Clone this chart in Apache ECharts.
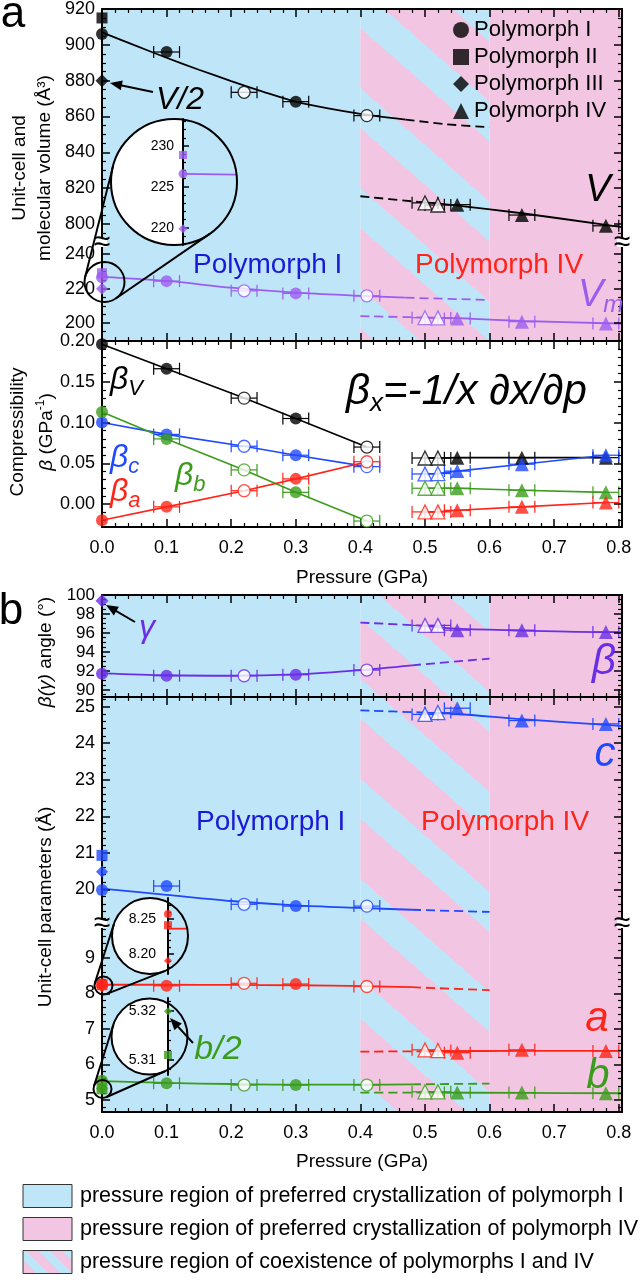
<!DOCTYPE html>
<html><head><meta charset="utf-8">
<script src="https://cdn.jsdelivr.net/npm/echarts@6/dist/echarts.min.js"></script>
<style>html,body{margin:0;padding:0;background:#fff}#c{width:640px;height:1280px}</style>
</head><body><div id="c"></div><script>
// ---------------- DATA ----------------
const P_I = [0, 0.1, 0.22, 0.3, 0.41];          // polymorph I pressures (GPa)
const OPEN_I = [0, 0, 1, 0, 1];                 // open (1) / filled (0) symbols
const ERR_I = [0, 0.02, 0.02, 0.02, 0.02];      // pressure error
const P_IV = [0.50, 0.52, 0.55, 0.65, 0.78];    // polymorph IV pressures
const OPEN_IV = [1, 1, 0, 0, 0];
const ERR_IV = [0.02, 0.02, 0.02, 0.02, 0.02];

// unit-cell volume V and molecular volume Vm (A^3)
const V_I = [906, 896, 873.5, 868.3, 860.5];
const V_IV = [811.8, 810.6, 810.8, 805, 799];
const V_II0 = 915, V_III0 = 880;
const VM_I = [226.6, 224.3, 218.7, 217.2, 215.8];
const VM_IV = [203.1, 203.0, 202.7, 200.8, 199.8];
const VM_II0 = 228.9, VM_III0 = 219.9;
const V_FIT_I = [[0,907],[0.05,899.8],[0.1,892.8],[0.15,886.1],[0.2,879.8],[0.25,873.8],[0.3,868.3],[0.35,864.5],[0.4,861.5],[0.47,858.3]];
const V_FIT_I_D = [[0.47,858.3],[0.53,855.8],[0.6,854]];
const V_FIT_IV_D = [[0.4,815.5],[0.49,812.3]];
const V_FIT_IV = [[0.49,812.3],[0.55,810.3],[0.65,806],[0.78,799.5],[0.805,798.3]];
const VM_FIT_I = [[0,226.8],[0.1,224.4],[0.2,220.5],[0.3,217.6],[0.4,215.8],[0.47,214.7]];
const VM_FIT_I_D = [[0.47,214.7],[0.6,213.4]];
const VM_FIT_IV_D = [[0.4,204],[0.49,203.3]];
const VM_FIT_IV = [[0.49,203.3],[0.55,202.8],[0.65,201.2],[0.78,199.9],[0.805,199.6]];

// compressibilities (GPa^-1)
const BV_I = [0.196, 0.166, 0.130, 0.105, 0.070];
const BC_I = [0.100, 0.0855, 0.071, 0.060, 0.046];
const BB_I = [0.113, 0.080, 0.042, 0.0145, -0.0207];
const BA_I = [-0.0198, -0.0033, 0.0165, 0.031, 0.052];
const BV_IV = [0.0566, 0.0566, 0.057, 0.057, 0.057];
const BC_IV = [0.037, 0.0375, 0.0405, 0.049, 0.060];
const BB_IV = [0.0195, 0.0195, 0.0195, 0.017, 0.0145];
const BA_IV = [-0.0095, -0.0095, -0.0075, -0.0033, 0.002];

// angles (deg)
const ANG_I = [91.7, 91.5, 91.5, 91.6, 92.1];
const ANG_IV = [96.8, 96.8, 96.3, 96.3, 96.1];
const GAMMA_III0 = 99.4;
const ANG_FIT_I = [[0,91.75],[0.1,91.55],[0.2,91.5],[0.3,91.65],[0.4,92.1],[0.48,92.6]];
const ANG_FIT_I_D = [[0.48,92.6],[0.6,93.3]];
const ANG_FIT_IV_D = [[0.4,97.1],[0.5,96.75]];
const ANG_FIT_IV = [[0.5,96.75],[0.55,96.45],[0.65,96.25],[0.78,96.1],[0.805,96.1]];

// cell lengths (A)
const C_I = [19.98, 20.09, 19.59, 19.54, 19.54];
const C_IV = [24.79, 24.84, 24.96, 24.62, 24.53];
const C_II0 = 20.93, C_III0 = 20.48;
const C_FIT_I = [[0,20.02],[0.1,19.85],[0.2,19.68],[0.3,19.56],[0.4,19.49],[0.48,19.44]];
const C_FIT_I_D = [[0.48,19.44],[0.6,19.38]];
const C_FIT_IV_D = [[0.4,24.9],[0.5,24.84]];
const C_FIT_IV = [[0.5,24.84],[0.55,24.8],[0.65,24.66],[0.78,24.5],[0.805,24.47]];
const A_I = [8.257, 8.21, 8.28, 8.26, 8.19];
const A_IV = [6.41, 6.39, 6.33, 6.41, 6.38];
const A_II0 = 8.241, A_III0 = 8.19;
const A_FIT_I = [[0,8.24],[0.1,8.24],[0.2,8.235],[0.3,8.225],[0.41,8.2],[0.48,8.17]];
const A_FIT_I_D = [[0.48,8.17],[0.6,8.09]];
const A_FIT_IV_D = [[0.4,6.36],[0.5,6.37]];
const A_FIT_IV = [[0.5,6.37],[0.65,6.38],[0.805,6.38]];
const B_I = [5.54, 5.47, 5.42, 5.42, 5.42];
const B_IV = [5.23, 5.23, 5.21, 5.21, 5.19];
const B_II0 = 5.311, B_III0 = 5.320;   // b/2
const B_FIT_I = [[0,5.53],[0.1,5.48],[0.2,5.45],[0.3,5.43],[0.41,5.43],[0.48,5.44]];
const B_FIT_I_D = [[0.48,5.44],[0.6,5.46]];
const B_FIT_IV_D = [[0.4,5.21],[0.5,5.21]];
const B_FIT_IV = [[0.5,5.21],[0.65,5.2],[0.805,5.19]];

// tick labels
const X_TICKS = [0, 0.1, 0.2, 0.3, 0.4, 0.5, 0.6, 0.7, 0.8];
const V_TICKS = [800, 820, 840, 860, 880, 900, 920];
const VM_TICKS = [200, 220, 240];
const BETA_TICKS = [0, 0.05, 0.1, 0.15, 0.2];
const ANG_TICKS = [90, 92, 94, 96, 98, 100];
const C_TICKS = [20, 21, 22, 23, 24, 25];
const AB_TICKS = [5, 6, 7, 8, 9];
const INA_TICKS = [220, 225, 230];
const INB_TICKS = [8.20, 8.25];
const INC_TICKS = [5.31, 5.32];

// ---------------- STYLE ----------------
const FONT = '"Liberation Sans", Arial, sans-serif';
const BLUE_BG = '#bfe6f8', PINK_BG = '#f2c6e2';
const K = '#000', BLU = '#1f48ff', GRN = '#3b9c1c', RED = '#ff2418', VMC = '#9c5cf0', ANC = '#6a2ee6';
const XMAX = 0.805;
const SZ_C = 12, SZ_T = 14;

function mkRange(a, b, s){ const n = Math.round((b - a) / s), o = []; for (let i = 0; i <= n; i++) o.push(Math.round((a + i * s) * 1e6) / 1e6); return o; }
function without(arr, ex){ return arr.filter(v => !ex.some(e => Math.abs(e - v) < 1e-9)); }
const X_MINOR = without(mkRange(0, 0.8, 0.02), X_TICKS);

// diagonal stripe tile: stripes run down-right with slope T/W
function stripeCanvas(T, W, pinkFrac, u0){
  const c = document.createElement('canvas'); c.width = W; c.height = T;
  const ctx = c.getContext('2d'); const img = ctx.createImageData(W, T); const s = T / W;
  const pk = [242,198,226], bl = [191,230,248];
  for (let j = 0; j < T; j++) for (let i = 0; i < W; i++) {
    const u = s * (i + 0.5) - (j + 0.5);
    const ph = (((u - u0) % T) + T) % T;
    const col = ph < pinkFrac * T ? pk : bl; const k = (j * W + i) * 4;
    img.data[k] = col[0]; img.data[k+1] = col[1]; img.data[k+2] = col[2]; img.data[k+3] = 255;
  }
  ctx.putImageData(img, 0, 0); return c;
}
const S_T = 100, S_W = 114, S_F = 0.6;
const patA = {image: stripeCanvas(S_T, S_W, S_F, (S_T/S_W) * 383 - 8), repeat: 'repeat'};
const patB = {image: stripeCanvas(S_T, S_W, S_F, (S_T/S_W) * 379 - 595), repeat: 'repeat'};
const patL = {image: stripeCanvas(24, 24, 0.5, 0), repeat: 'repeat'};

// ---------------- GRIDS / AXES ----------------
const LAYOUT = [
 {top:8,   height:235, min:789.4, max:920,    ticks:V_TICKS,    minor:[790,920,5],      dig:0, xlab:false, tl:true,  bl:false, fs:18},
 {top:243, height:98,  min:189.6, max:246.4,  ticks:VM_TICKS,   minor:[190,245,5],      dig:0, xlab:false, tl:false, bl:true,  fs:18},
 {top:341, height:186, min:-0.028, max:0.2,   ticks:BETA_TICKS, minor:[-0.02,0.2,0.01], dig:2, xlab:true,  tl:true,  bl:true,  fs:18},
 {top:595, height:102, min:89.26, max:100,    ticks:ANG_TICKS,  minor:[89.5,100,0.5],   dig:0, xlab:false, tl:true,  bl:true,  fs:17},
 {top:697, height:227, min:19.05, max:25.266, ticks:C_TICKS,    minor:[19.2,25.2,0.2],  dig:0, xlab:false, tl:true,  bl:false, fs:18},
 {top:924, height:188, min:4.663, max:9.947,  ticks:AB_TICKS,   minor:[4.8,9.8,0.2],    dig:0, xlab:true,  tl:false, bl:true,  fs:18}
];
const grid = [], xAxis = [], yAxis = [], XI = [], YI = [];
const LS = {color:K, width:2};
const TS = {color:K, width:1.5}, TSm = {color:K, width:1.2};
LAYOUT.forEach((g, gi) => {
  grid.push({left:102, right:18, top:g.top, height:g.height});
  const xb = {type:'value', gridIndex:gi, min:0, max:XMAX, splitLine:{show:false}, z:5};
  XI[gi] = xAxis.length;
  xAxis.push(Object.assign({}, xb, {position:'bottom', axisLine:{show:g.bl, onZero:false, lineStyle:LS},
    axisTick:{show:g.bl, inside:true, length:8, customValues:X_TICKS, lineStyle:TS},
    axisLabel:{show:g.xlab, customValues:X_TICKS, formatter:v => v.toFixed(1), fontSize:18, fontFamily:FONT, color:K, margin:12}}));
  xAxis.push(Object.assign({}, xb, {position:'bottom', axisLine:{show:false, onZero:false},
    axisTick:{show:g.bl, inside:true, length:4, customValues:X_MINOR, lineStyle:TSm}, axisLabel:{show:false}}));
  xAxis.push(Object.assign({}, xb, {position:'top', axisLine:{show:g.tl, onZero:false, lineStyle:LS},
    axisTick:{show:g.tl, inside:true, length:8, customValues:X_TICKS, lineStyle:TS}, axisLabel:{show:false}}));
  xAxis.push(Object.assign({}, xb, {position:'top', axisLine:{show:false, onZero:false},
    axisTick:{show:g.tl, inside:true, length:4, customValues:X_MINOR, lineStyle:TSm}, axisLabel:{show:false}}));
  const yb = {type:'value', gridIndex:gi, min:g.min, max:g.max, splitLine:{show:false}, z:5};
  const mn = without(mkRange(g.minor[0], g.minor[1], g.minor[2]), g.ticks);
  YI[gi] = yAxis.length;
  yAxis.push(Object.assign({}, yb, {position:'left', axisLine:{show:true, onZero:false, lineStyle:LS},
    axisTick:{show:true, inside:true, length:8, customValues:g.ticks, lineStyle:TS},
    axisLabel:{show:true, customValues:g.ticks, formatter:v => v.toFixed(g.dig), fontSize:g.fs, fontFamily:FONT, color:K, margin:7}}));
  yAxis.push(Object.assign({}, yb, {position:'left', axisLine:{show:false, onZero:false},
    axisTick:{show:true, inside:true, length:4, customValues:mn, lineStyle:TSm}, axisLabel:{show:false}}));
  yAxis.push(Object.assign({}, yb, {position:'right', axisLine:{show:true, onZero:false, lineStyle:LS},
    axisTick:{show:true, inside:true, length:8, customValues:g.ticks, lineStyle:TS}, axisLabel:{show:false}}));
  yAxis.push(Object.assign({}, yb, {position:'right', axisLine:{show:false, onZero:false},
    axisTick:{show:true, inside:true, length:4, customValues:mn, lineStyle:TSm}, axisLabel:{show:false}}));
});

// inset grids (magnified views at p = 0)
const INSETS = [
 {left:183, top:119, width:54, height:126, min:217.9, max:233.3, ticks:INA_TICKS, minor:[218,233,1], dig:0, margin:9,
  circ:[174,182,63], small:[104.5,282,20]},
 {left:168, top:898, width:20, height:76, min:8.171, max:8.28, ticks:INB_TICKS, minor:[8.18,8.27,0.01], dig:2, margin:12,
  circ:[150,936,38], small:[103.5,985.5,9]},
 {left:168, top:998, width:20, height:77, min:5.3069, max:5.3227, ticks:INC_TICKS, minor:[5.308,5.322,0.002], dig:2, margin:12,
  circ:[149.5,1036.5,38], small:[102.5,1089,9]}
];
INSETS.forEach((g, k) => {
  const gi = grid.length;
  grid.push({left:g.left, top:g.top, width:g.width, height:g.height});
  XI[gi] = xAxis.length;
  xAxis.push({type:'value', gridIndex:gi, min:0, max:0.02, show:false});
  YI[gi] = yAxis.length;
  const mn = without(mkRange(g.minor[0], g.minor[1], g.minor[2]), g.ticks);
  yAxis.push({type:'value', gridIndex:gi, min:g.min, max:g.max, position:'left', z:15, splitLine:{show:false},
    axisLine:{show:true, onZero:false, lineStyle:LS}, axisTick:{show:true, inside:true, length:6, customValues:g.ticks, lineStyle:TS},
    axisLabel:{show:true, customValues:g.ticks, formatter:v => v.toFixed(g.dig), fontSize:14, fontFamily:FONT, color:K, margin:g.margin}});
  yAxis.push({type:'value', gridIndex:gi, min:g.min, max:g.max, position:'left', z:15, splitLine:{show:false},
    axisLine:{show:false}, axisTick:{show:true, inside:true, length:3, customValues:mn, lineStyle:TSm}, axisLabel:{show:false}});
});

// ---------------- SERIES ----------------
const series = [];
function addBG(gi, pat){
  series.push({type:'line', xAxisIndex:XI[gi], yAxisIndex:YI[gi], data:[[0, LAYOUT[gi].min]], symbol:'none', silent:true, z:1,
    lineStyle:{width:0},
    markArea:{silent:true, data:[
      [{xAxis:0, itemStyle:{color:BLUE_BG, opacity:1}}, {xAxis:0.4}],
      [{xAxis:0.4, itemStyle:{color:pat, opacity:1}}, {xAxis:0.6}],
      [{xAxis:0.6, itemStyle:{color:PINK_BG, opacity:1}}, {xAxis:XMAX}]]}});
}
function addLine(gi, pts, color, dashed, smooth, w){
  series.push({type:'line', xAxisIndex:XI[gi], yAxisIndex:YI[gi], data:pts, symbol:'none', silent:true, z:3,
    smooth: smooth ? 0.3 : false, lineStyle:{color, width:w || 1.8, type: dashed ? [9,5] : 'solid'}});
}
function addPts(gi, pts, color, symbol, open, size, z){
  series.push({type:'scatter', xAxisIndex:XI[gi], yAxisIndex:YI[gi], data:pts, symbol, symbolSize:size, silent:true, z:z || 6,
    itemStyle: open ? {color:'#fff', borderColor:color, borderWidth:1.3} : {color}});
}
function addErr(gi, pts, errs, color){
  series.push({type:'custom', xAxisIndex:XI[gi], yAxisIndex:YI[gi], silent:true, z:4,
    data: pts.map((p, i) => [p[0], p[1], errs[i]]),
    renderItem: (params, api) => {
      const x = api.value(0), y = api.value(1), e = api.value(2);
      if (!e) return null;
      const a = api.coord([x - e, y]), b = api.coord([x + e, y]), h = 6;
      const st = {stroke:color, lineWidth:1.2};
      return {type:'group', children:[
        {type:'line', shape:{x1:a[0], y1:a[1], x2:b[0], y2:b[1]}, style:st},
        {type:'line', shape:{x1:a[0], y1:a[1]-h, x2:a[0], y2:a[1]+h}, style:st},
        {type:'line', shape:{x1:b[0], y1:b[1]-h, x2:b[0], y2:b[1]+h}, style:st}]};
    }});
}
function addSet(gi, P, vals, open, errs, sym, color, size){
  const pts = P.map((p, i) => [p, vals[i]]);
  addErr(gi, pts, errs, color);
  addPts(gi, pts.filter((p, i) => !open[i]), color, sym, false, size);
  addPts(gi, pts.filter((p, i) => open[i]), color, sym, true, size);
}
// inset background: white left of the inner axis (p < 0), blue right of it, clipped to the circle
function addInsetBG(k){
  const g = INSETS[k], gi = LAYOUT.length + k, [cx, cy, r] = g.circ, ax = g.left;
  series.push({type:'custom', xAxisIndex:XI[gi], yAxisIndex:YI[gi], silent:true, z:14, clip:false,
    data:[[0.01, (g.min + g.max) / 2]],
    renderItem: () => {
      const phi = Math.acos((ax - cx) / r), R = [], L = [];
      for (let i = 0; i <= 60; i++) { const t = -phi + 2*phi*i/60; R.push([cx + r*Math.cos(t), cy + r*Math.sin(t)]); }
      for (let i = 0; i <= 90; i++) { const t = phi + (2*Math.PI - 2*phi)*i/90; L.push([cx + r*Math.cos(t), cy + r*Math.sin(t)]); }
      return {type:'group', children:[
        {type:'polygon', shape:{points:L}, style:{fill:'#ffffff'}},
        {type:'polygon', shape:{points:R}, style:{fill:BLUE_BG}}]};
    }});
}

[0,1].forEach(g => addBG(g, patA));
[3,4,5].forEach(g => addBG(g, patB));

// volume
addLine(0, V_FIT_I, K, false, true); addLine(0, V_FIT_I_D, K, true, true);
addLine(0, V_FIT_IV_D, K, true, true); addLine(0, V_FIT_IV, K, false, true);
addSet(0, P_I, V_I, OPEN_I, ERR_I, 'circle', K, SZ_C);
addSet(0, P_IV, V_IV, OPEN_IV, ERR_IV, 'triangle', K, SZ_T);
addPts(0, [[0, V_II0]], K, 'rect', false, 11, 7);
addPts(0, [[0, V_III0]], K, 'diamond', false, 13, 7);
addLine(1, VM_FIT_I, VMC, false, true); addLine(1, VM_FIT_I_D, VMC, true, true);
addLine(1, VM_FIT_IV_D, VMC, true, true); addLine(1, VM_FIT_IV, VMC, false, true);
addSet(1, P_I, VM_I, OPEN_I, ERR_I, 'circle', VMC, SZ_C);
addSet(1, P_IV, VM_IV, OPEN_IV, ERR_IV, 'triangle', VMC, SZ_T);
addPts(1, [[0, VM_II0]], VMC, 'rect', false, 10, 7);
addPts(1, [[0, VM_III0]], VMC, 'diamond', false, 12, 7);

// compressibility
[[BV_I, BV_IV, K], [BC_I, BC_IV, BLU], [BB_I, BB_IV, GRN], [BA_I, BA_IV, RED]].forEach(([a, b, col]) => {
  addLine(2, P_I.map((p, i) => [p, a[i]]), col, false, false, 1.6);
  addLine(2, P_IV.map((p, i) => [p, b[i]]), col, false, false, 1.6);
  addSet(2, P_I, a, OPEN_I, ERR_I, 'circle', col, SZ_C);
  addSet(2, P_IV, b, OPEN_IV, ERR_IV, 'triangle', col, SZ_T);
});

// angles
addLine(3, ANG_FIT_I, ANC, false, true); addLine(3, ANG_FIT_I_D, ANC, true, true);
addLine(3, ANG_FIT_IV_D, ANC, true, true); addLine(3, ANG_FIT_IV, ANC, false, true);
addSet(3, P_I, ANG_I, OPEN_I, ERR_I, 'circle', ANC, SZ_C);
addSet(3, P_IV, ANG_IV, OPEN_IV, ERR_IV, 'triangle', ANC, SZ_T);
addPts(3, [[0, GAMMA_III0]], ANC, 'diamond', false, 13, 7);

// c
addLine(4, C_FIT_I, BLU, false, true); addLine(4, C_FIT_I_D, BLU, true, true);
addLine(4, C_FIT_IV_D, BLU, true, true); addLine(4, C_FIT_IV, BLU, false, true);
addSet(4, P_I, C_I, OPEN_I, ERR_I, 'circle', BLU, SZ_C);
addSet(4, P_IV, C_IV, OPEN_IV, ERR_IV, 'triangle', BLU, SZ_T);
addPts(4, [[0, C_II0]], BLU, 'rect', false, 11, 7);
addPts(4, [[0, C_III0]], BLU, 'diamond', false, 12, 7);

// a, b
addLine(5, A_FIT_I, RED, false, true); addLine(5, A_FIT_I_D, RED, true, true);
addLine(5, A_FIT_IV_D, RED, true, true); addLine(5, A_FIT_IV, RED, false, true);
addSet(5, P_I, A_I, OPEN_I, ERR_I, 'circle', RED, SZ_C);
addSet(5, P_IV, A_IV, OPEN_IV, ERR_IV, 'triangle', RED, SZ_T);
addPts(5, [[0, A_II0]], RED, 'rect', false, 11, 7);
addPts(5, [[0, A_III0]], RED, 'diamond', false, 12, 7);
addLine(5, B_FIT_I, GRN, false, true); addLine(5, B_FIT_I_D, GRN, true, true);
addLine(5, B_FIT_IV_D, GRN, true, true); addLine(5, B_FIT_IV, GRN, false, true);
addSet(5, P_I, B_I, OPEN_I, ERR_I, 'circle', GRN, SZ_C);
addSet(5, P_IV, B_IV, OPEN_IV, ERR_IV, 'triangle', GRN, SZ_T);
addPts(5, [[0, B_II0]], GRN, 'rect', false, 11, 7);
addPts(5, [[0, B_III0]], GRN, 'diamond', false, 12, 7);

// insets
[0,1,2].forEach(addInsetBG);
addLine(6, [[0, VM_I[0]], [0.02, VM_I[0] - 0.1]], VMC, false, false, 1.8);
addPts(6, [[0, VM_II0]], VMC, 'rect', false, 8, 17);
addPts(6, [[0, VM_I[0]]], VMC, 'circle', false, 9, 17);
addPts(6, [[0, VM_III0]], VMC, 'diamond', false, 9, 17);
addLine(7, [[0, 8.236], [0.02, 8.236]], RED, false, false, 1.8);
addPts(7, [[0, A_I[0]]], RED, 'circle', false, 8, 17);
addPts(7, [[0, A_II0]], RED, 'rect', false, 8, 17);
addPts(7, [[0, A_III0]], RED, 'diamond', false, 8, 17);
addPts(8, [[0, B_III0]], GRN, 'diamond', false, 8, 17);
addPts(8, [[0, B_II0]], GRN, 'rect', false, 8, 17);
series.forEach(s => { if (s.xAxisIndex >= xAxis.length - 3 && s.z < 14) s.z = 16; });

// legend dummies
const LEG = [['Polymorph I','circle'],['Polymorph II','rect'],['Polymorph III','diamond'],['Polymorph IV','triangle']];
LEG.forEach(([n, ic]) => series.push({type:'scatter', name:n, data:[], symbol:ic, itemStyle:{color:K}, xAxisIndex:XI[0], yAxisIndex:YI[0]}));

// ---------------- GRAPHICS ----------------
const graphic = [];
function txt(x, y, text, o){
  o = o || {};
  graphic.push({type:'text', x, y, rotation:o.rot || 0, z:o.z || 20, silent:true,
    style:{text, fill:o.color || K, fontSize:o.size || 18, fontFamily:FONT, fontStyle:o.italic ? 'italic' : 'normal',
      fontWeight:o.weight || 'normal', align:o.align || 'center', verticalAlign:'middle', rich:o.rich}});
}
function arrow(x1, y1, x2, y2){
  const a = Math.atan2(y2 - y1, x2 - x1), L = 12, W = 5;
  graphic.push({type:'line', z:20, silent:true, shape:{x1, y1, x2:x2 - 6*Math.cos(a), y2:y2 - 6*Math.sin(a)}, style:{stroke:K, lineWidth:2}});
  graphic.push({type:'polygon', z:20, silent:true, shape:{points:[[x2, y2],
    [x2 - L*Math.cos(a) + W*Math.sin(a), y2 - L*Math.sin(a) - W*Math.cos(a)],
    [x2 - L*Math.cos(a) - W*Math.sin(a), y2 - L*Math.sin(a) + W*Math.cos(a)]]}, style:{fill:K}});
}
function tangents(x1, y1, r1, x2, y2, r2){
  const dx = x2 - x1, dy = y2 - y1, L = Math.hypot(dx, dy), th = Math.atan2(dy, dx), al = Math.acos((r1 - r2) / L);
  return [1, -1].map(sg => { const a = th + sg * al;
    return [[x1 + r1*Math.cos(a), y1 + r1*Math.sin(a)], [x2 + r2*Math.cos(a), y2 + r2*Math.sin(a)]]; });
}
INSETS.forEach(g => {
  const [cx, cy, r] = g.circ, [sx, sy, sr] = g.small;
  graphic.push({type:'circle', z:18, silent:true, shape:{cx, cy, r}, style:{fill:'none', stroke:K, lineWidth:2}});
  graphic.push({type:'circle', z:18, silent:true, shape:{cx:sx, cy:sy, r:sr}, style:{fill:'none', stroke:K, lineWidth:2}});
  tangents(sx, sy, sr, cx, cy, r).forEach(([p, q]) =>
    graphic.push({type:'line', z:18, silent:true, shape:{x1:p[0], y1:p[1], x2:q[0], y2:q[1]}, style:{stroke:K, lineWidth:2}}));
});

// axis breaks
[[102,243],[622,243],[102,924],[622,924]].forEach(([x, y]) => {
  graphic.push({type:'rect', z:19, silent:true, shape:{x:x-5, y:y-4, width:10, height:8}, style:{fill:'#fff'}});
  txt(x, y, '≈', {size:30, z:20});
});

// panel letters
txt(13, 15, 'a', {size:44});
txt(11, 612, 'b', {size:44});

// panel a annotations
txt(180, 100, 'V/2', {size:32, italic:true});
arrow(153, 92, 110, 83);
txt(193, 265, 'Polymorph I', {size:28, color:'#1a1ad6', align:'left'});
txt(415, 265, 'Polymorph IV', {size:28, color:RED, align:'left'});
txt(598, 190, 'V', {size:38, italic:true});
txt(578, 295, '{v|V}{s|m}', {align:'left', rich:{v:{fontSize:38, fontStyle:'italic', fill:VMC, fontFamily:FONT, lineHeight:44, verticalAlign:'middle'}, s:{fontSize:24, fontStyle:'italic', fill:VMC, fontFamily:FONT, lineHeight:44, verticalAlign:'bottom'}}});
function beta(x, y, sub, col){
  txt(x, y, '{b|β}{s|' + sub + '}', {align:'left', rich:{b:{fontSize:32, fontStyle:'italic', fill:col, fontFamily:FONT, lineHeight:40, verticalAlign:'middle'}, s:{fontSize:22, fontStyle:'italic', fill:col, fontFamily:FONT, lineHeight:40, verticalAlign:'bottom'}}});
}
beta(110, 380, 'V', K); beta(110, 458, 'c', BLU); beta(110, 492, 'a', RED); beta(175, 476, 'b', GRN);
txt(346, 392, '{b|β}{s|x}{b|=-1/x ∂x/∂p}', {align:'left', rich:{b:{fontSize:42, fontStyle:'italic', fill:K, fontFamily:FONT, lineHeight:50, verticalAlign:'middle'}, s:{fontSize:26, fontStyle:'italic', fill:K, fontFamily:FONT, lineHeight:50, verticalAlign:'bottom'}}});

// panel b annotations
txt(147, 628, 'γ', {size:32, italic:true, color:ANC});
arrow(135, 622, 106, 605);
txt(604, 662, 'β', {size:42, italic:true, color:ANC});
txt(605, 754, 'c', {size:42, italic:true, color:BLU});
txt(196, 822, 'Polymorph I', {size:28, color:'#1a1ad6', align:'left'});
txt(421, 822, 'Polymorph IV', {size:28, color:RED, align:'left'});
txt(597, 1019, 'a', {size:42, italic:true, color:RED});
txt(598, 1076, 'b', {size:42, italic:true, color:GRN});
txt(218, 1050, 'b/2', {size:34, italic:true, color:GRN});
arrow(193, 1043, 170, 1018);

// axis titles
txt(362, 578, 'Pressure (GPa)', {size:19});
txt(362, 1162, 'Pressure (GPa)', {size:19});
txt(20, 168, 'Unit-cell and', {size:19, rot:Math.PI/2});
txt(45, 168, 'molecular volume (Å³)', {size:19, rot:Math.PI/2});
txt(18, 432, 'Compressibility', {size:19, rot:Math.PI/2});
txt(47, 432, '{i|β} (GPa{u|-1})', {rot:Math.PI/2, rich:{i:{fontSize:19, fontStyle:'italic', fontFamily:FONT, fill:K, lineHeight:24, verticalAlign:'middle'}, u:{fontSize:12, fontFamily:FONT, fill:K, lineHeight:24, verticalAlign:'top'}}, size:19});
txt(46, 652, '{i|β(γ)} angle (°)', {rot:Math.PI/2, size:19, rich:{i:{fontSize:19, fontStyle:'italic', fontFamily:FONT, fill:K}}});
txt(46, 907, 'Unit-cell parameters (Å)', {size:19, rot:Math.PI/2});

// region legend
const REG = [[BLUE_BG, 'pressure region of preferred crystallization of polymorph I'],
             [PINK_BG, 'pressure region of preferred crystallization of polymorph IV'],
             [patL, 'pressure region of coexistence of polymorphs I and IV']];
REG.forEach(([fill, label], i) => {
  const y = 1196 + i * 33;
  graphic.push({type:'rect', z:20, silent:true, shape:{x:23, y:y - 11.5, width:49, height:23}, style:{fill, stroke:'#333', lineWidth:1}});
  txt(80, y, label, {size:21.5, align:'left'});
});

const chart = echarts.init(document.getElementById('c'), null, {renderer:'canvas'});
chart.setOption({
  animation:false, backgroundColor:'#fff',
  grid, xAxis, yAxis, series, graphic,
  legend:{left:448, top:14, orient:'vertical', itemWidth:16, itemHeight:16, itemGap:5, selectedMode:false, z:20,
    textStyle:{fontSize:22, fontFamily:FONT, color:K, lineHeight:22},
    data:LEG.map(([n, ic]) => ({name:n, icon:ic}))}
});
</script></body></html>
